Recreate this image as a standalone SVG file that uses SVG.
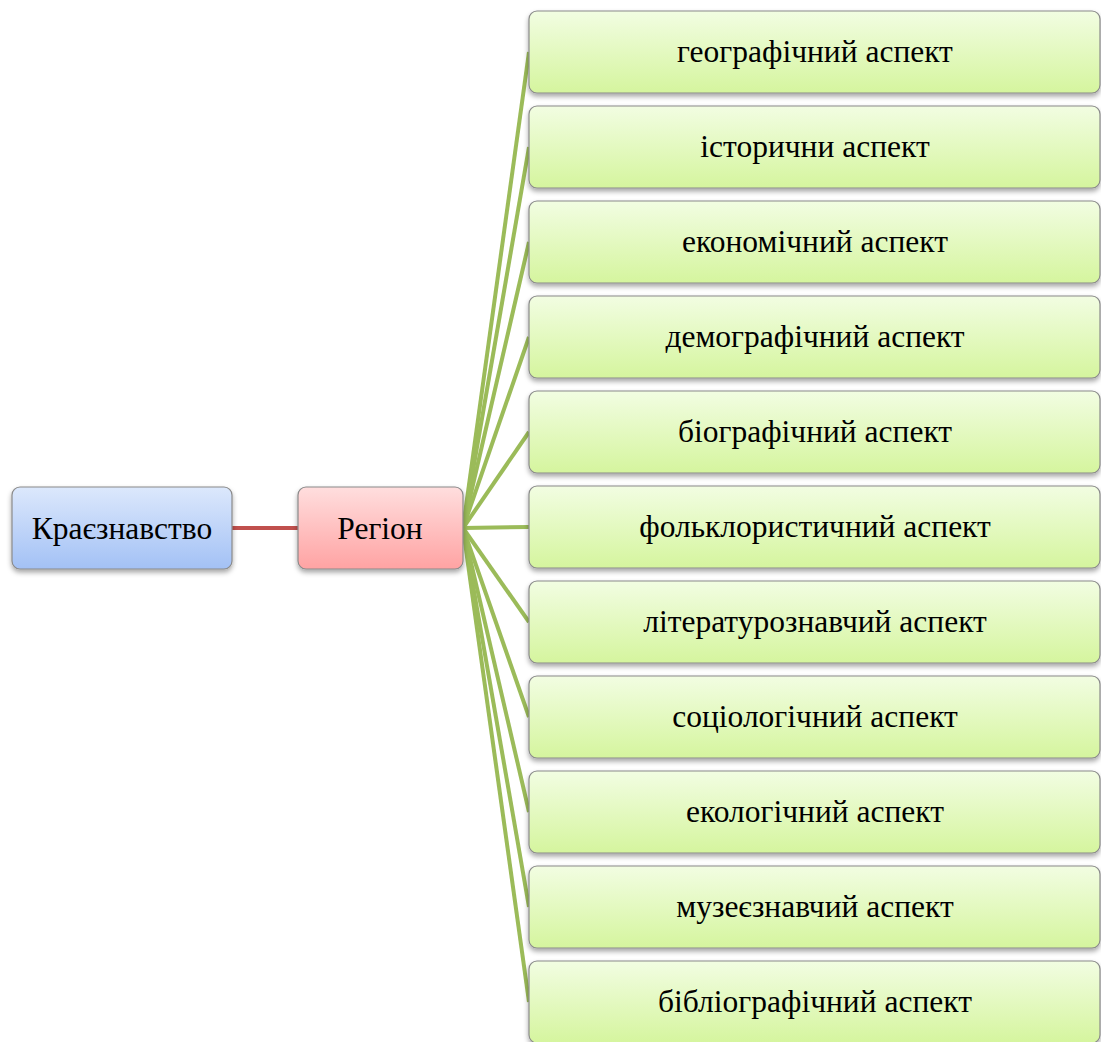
<svg xmlns="http://www.w3.org/2000/svg" width="1101" height="1042" viewBox="0 0 1101 1042">
<defs>
<linearGradient id="gBlue" x1="0" y1="0" x2="0" y2="1"><stop offset="0" stop-color="#dce8fc"/><stop offset="1" stop-color="#a3c1f5"/></linearGradient>
<linearGradient id="gRed" x1="0" y1="0" x2="0" y2="1"><stop offset="0" stop-color="#ffdede"/><stop offset="1" stop-color="#ffa3a3"/></linearGradient>
<linearGradient id="gGreen" x1="0" y1="0" x2="0" y2="1"><stop offset="0" stop-color="#f2fde2"/><stop offset="1" stop-color="#d5f59e"/></linearGradient>
<filter id="sh" x="-10%" y="-20%" width="120%" height="150%"><feDropShadow dx="0" dy="3" stdDeviation="2.5" flood-color="#000" flood-opacity="0.35"/></filter>
</defs>
<style>
.box{stroke:#8a8a8a;stroke-width:1.2;filter:url(#sh)}
.t{font-family:"Liberation Serif","Times New Roman",serif;font-size:31.5px;fill:#000;text-anchor:middle}
.g{stroke:#9bbb59;stroke-width:4;fill:none}
.r{stroke:#c0504d;stroke-width:4;fill:none}
</style>
<g id="connectors">
<line class="r" x1="232" y1="528" x2="298" y2="528"/>
<line class="g" x1="463" y1="528" x2="529" y2="52"/>
<line class="g" x1="463" y1="528" x2="529" y2="147"/>
<line class="g" x1="463" y1="528" x2="529" y2="242"/>
<line class="g" x1="463" y1="528" x2="529" y2="337"/>
<line class="g" x1="463" y1="528" x2="529" y2="432"/>
<line class="g" x1="463" y1="528" x2="529" y2="527"/>
<line class="g" x1="463" y1="528" x2="529" y2="622"/>
<line class="g" x1="463" y1="528" x2="529" y2="717"/>
<line class="g" x1="463" y1="528" x2="529" y2="812"/>
<line class="g" x1="463" y1="528" x2="529" y2="907"/>
<line class="g" x1="463" y1="528" x2="529" y2="1002"/>
</g>
<g id="n-kraieznavstvo"><rect class="box" x="12" y="487" width="220" height="82" rx="8" fill="url(#gBlue)"/><text class="t" x="122" y="539">Краєзнавство</text></g>
<g id="n-region"><rect class="box" x="298" y="487" width="165" height="82" rx="8" fill="url(#gRed)"/><text class="t" x="380" y="539">Регіон</text></g>
<g id="n1"><rect class="box" x="529" y="11" width="571" height="82" rx="8" fill="url(#gGreen)"/><text class="t" x="815" y="62">географічний аспект</text></g>
<g id="n2"><rect class="box" x="529" y="106" width="571" height="82" rx="8" fill="url(#gGreen)"/><text class="t" x="815" y="157">історични аспект</text></g>
<g id="n3"><rect class="box" x="529" y="201" width="571" height="82" rx="8" fill="url(#gGreen)"/><text class="t" x="815" y="252">економічний аспект</text></g>
<g id="n4"><rect class="box" x="529" y="296" width="571" height="82" rx="8" fill="url(#gGreen)"/><text class="t" x="815" y="347">демографічний аспект</text></g>
<g id="n5"><rect class="box" x="529" y="391" width="571" height="82" rx="8" fill="url(#gGreen)"/><text class="t" x="815" y="442">біографічний аспект</text></g>
<g id="n6"><rect class="box" x="529" y="486" width="571" height="82" rx="8" fill="url(#gGreen)"/><text class="t" x="815" y="537">фольклористичний аспект</text></g>
<g id="n7"><rect class="box" x="529" y="581" width="571" height="82" rx="8" fill="url(#gGreen)"/><text class="t" x="815" y="632">літературознавчий аспект</text></g>
<g id="n8"><rect class="box" x="529" y="676" width="571" height="82" rx="8" fill="url(#gGreen)"/><text class="t" x="815" y="727">соціологічний аспект</text></g>
<g id="n9"><rect class="box" x="529" y="771" width="571" height="82" rx="8" fill="url(#gGreen)"/><text class="t" x="815" y="822">екологічний аспект</text></g>
<g id="n10"><rect class="box" x="529" y="866" width="571" height="82" rx="8" fill="url(#gGreen)"/><text class="t" x="815" y="917">музеєзнавчий аспект</text></g>
<g id="n11"><rect class="box" x="529" y="961" width="571" height="82" rx="8" fill="url(#gGreen)"/><text class="t" x="815" y="1012">бібліографічний аспект</text></g>
</svg>
